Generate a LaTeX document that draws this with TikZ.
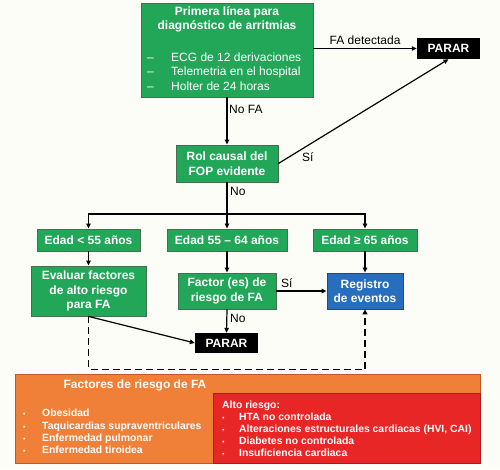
\documentclass[tikz,border=0pt]{standalone}
\usepackage{fontspec}
\setmainfont{Liberation Sans}
\usetikzlibrary{arrows.meta}
\definecolor{gfill}{RGB}{34,166,88}
\definecolor{gline}{RGB}{70,110,80}
\definecolor{bfill}{RGB}{40,110,190}
\definecolor{bline}{RGB}{40,70,120}
\definecolor{ofill}{RGB}{240,128,56}
\definecolor{oline}{RGB}{190,90,40}
\definecolor{rfill}{RGB}{232,38,38}
\definecolor{rline}{RGB}{160,30,30}
\definecolor{bgc}{RGB}{253,253,247}
\begin{document}
\begin{tikzpicture}[x=1pt,y=-1pt,
  gbox/.style={draw=gline,fill=gfill,line width=0.8pt,text=white,align=center,inner sep=0pt,
    font=\fontsize{12}{14.5}\selectfont\bfseries},
  bbox/.style={gbox,draw=bline,fill=bfill},
  stopbox/.style={fill=black,text=white,inner sep=0pt,minimum width=63pt,minimum height=21pt,
    font=\fontsize{12}{14}\selectfont\bfseries},
  conn/.style={line width=1.2pt,-{Triangle[length=5pt,width=4.5pt]}},
  plain/.style={line width=1.2pt},
  lbl/.style={font=\fontsize{12}{14}\selectfont,inner sep=0pt},
  wtxt/.style={text=white,inner sep=0pt,anchor=base west,font=\fontsize{12}{14.5}\selectfont},
  ltxt/.style={text=white,inner sep=0pt,anchor=base west,font=\fontsize{10.4}{12}\selectfont\bfseries},
]
\path[fill=bgc] (0,0) rectangle (500,469);
\useasboundingbox (0,0) rectangle (500,469);

% top box
\node[gbox,minimum width=172pt,minimum height=94pt] (top) at (227,50) {};
\node[text=white,inner sep=0pt,font=\fontsize{12}{14}\selectfont\bfseries,align=center] (toptitle) at (227,19) {Primera línea para\\diagnóstico de arritmias};
\foreach \t [count=\i] in {ECG de 12 derivaciones,Telemetria en el hospital,Holter de 24 horas}{
  \node[wtxt] (d\i) at (147,46.5+14.5*\i) {–};
  \node[wtxt] (l\i) at (171,46.5+14.5*\i) {\t};
}

\node[stopbox] (stop1) at (448.5,48.5) {PARAR};
\node[gbox,minimum width=102pt,minimum height=37pt] (rol) at (227,163.5) {Rol causal del\\FOP evidente};

\node[gbox,minimum width=103pt,minimum height=22pt] (e1) at (88.5,240) {Edad < 55 años};
\node[gbox,minimum width=120pt,minimum height=22pt] (e2) at (227,240) {Edad 55 – 64 años};
\node[gbox,minimum width=104pt,minimum height=22pt] (e3) at (365,240) {Edad ≥ 65 años};

\node[gbox,minimum width=115pt,minimum height=50pt] (eval) at (88.5,291) {Evaluar factores\\de alto riesgo\\para FA};
\node[gbox,minimum width=98pt,minimum height=36pt] (fac) at (227,291) {Factor (es) de\\riesgo de FA};
\node[bbox,minimum width=76pt,minimum height=36pt] (reg) at (365,291) {Registro\\de eventos};
\node[stopbox,minimum height=20pt] (stop2) at (226.5,343) {PARAR};

% connectors
\draw[conn] (top.east |- stop1.west) -- node[lbl,above=3pt] (lfa) {FA detectada} (stop1.west);
\draw[conn] (top.south) -- (rol.north);
\node[lbl,anchor=west] (lnofa) at (229,109) {No FA};
\draw[conn] (rol.east) -- (stop1.south);
\node[lbl,anchor=west] (lsi1) at (302,157) {Sí};
\coordinate (split) at (227,214);
\draw[plain] (rol.south) -- (split);
\node[lbl,anchor=west] (lno1) at (230,191) {No};
\draw[conn] (split) -| (e1.north);
\draw[conn] (split) -- (e2.north);
\draw[conn] (split) -| (e3.north);
\draw[conn] (e1.south) -- (eval.north);
\draw[conn] (e2.south) -- (fac.north);
\draw[conn] (e3.south) -- (reg.north);
\draw[conn] (fac.east) -- (reg.west);
\node[lbl,anchor=west] (lsi2) at (281,283) {Sí};
\draw[conn] (fac.south) -- (stop2.north);
\node[lbl,anchor=west] (lno2) at (230,318) {No};
\draw[conn] (eval.south) -- (stop2.west);
\draw[line width=1.8pt,dash pattern=on 7pt off 4pt,-{Triangle[length=5pt,width=5pt]}] (eval.south) -- ++(0,53) -| (reg.south);

% risk factor panel
\path[draw=oline,fill=ofill,line width=0.8pt] (15,374) rectangle (480,463);
\path[draw=rline,fill=rfill,line width=0.8pt] (213,393) rectangle (480,463);
\node[text=white,inner sep=0pt,font=\fontsize{12}{14}\selectfont\bfseries] (otitle) at (135,385) {Factores de riesgo de FA};
\foreach \t [count=\i] in {Obesidad,Taquicardias supraventriculares,Enfermedad pulmonar,Enfermedad tiroidea}{
  \node[ltxt,font=\fontsize{7}{8}\selectfont] (ob\i) at (23,404.5+12.3*\i) {•};
  \node[ltxt] (ot\i) at (42,404.5+12.3*\i) {\t};
}
\node[ltxt] (rtitle) at (222,408) {Alto riesgo:};
\foreach \t [count=\i] in {HTA no controlada,{Alteraciones estructurales cardiacas (HVI, CAI)},Diabetes no controlada,Insuficiencia cardiaca}{
  \node[ltxt,font=\fontsize{7}{8}\selectfont] (rb\i) at (222,408+12.2*\i) {•};
  \node[ltxt] (rt\i) at (239,408+12.2*\i) {\t};
}
\end{tikzpicture}
\end{document}
